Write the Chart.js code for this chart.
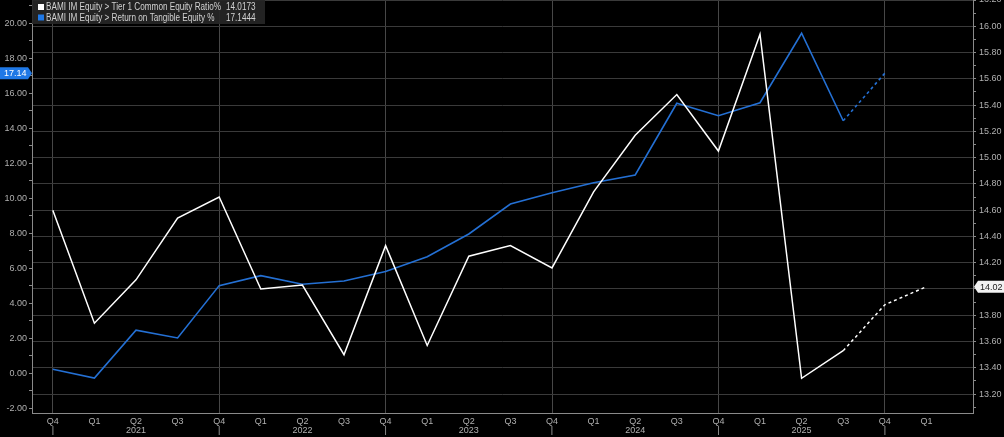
<!DOCTYPE html>
<html>
<head>
<meta charset="utf-8">
<title>BAMI IM Equity</title>
<script src="https://cdn.jsdelivr.net/npm/chart.js@4.4.1/dist/chart.umd.min.js"></script>
<style>
  html, body { margin:0; padding:0; background:#000; }
  #wrap { width:1004px; height:437px; position:relative; }
</style>
</head>
<body>
<div id="wrap"><canvas id="grafico"></canvas></div>
<script>
// -------------------------------------------
//  DADOS
// -------------------------------------------

var trimestres = ['Q4 2020',
    'Q1 2021','Q2 2021','Q3 2021','Q4 2021',
    'Q1 2022','Q2 2022','Q3 2022','Q4 2022',
    'Q1 2023','Q2 2023','Q3 2023','Q4 2023',
    'Q1 2024','Q2 2024','Q3 2024','Q4 2024',
    'Q1 2025','Q2 2025','Q3 2025','Q4 2025',
    'Q1 2026']

// eixo direito
var tier1 = [14.60, 13.74, 14.07, 14.54, 14.70, 14.00, 14.03, 13.50, 14.33, 13.57, 14.25,
             14.33, 14.16, 14.74, 15.17, 15.48, 15.05, 15.94, 13.32, 13.53, 13.88, 14.0173]
// eixo esquerdo
var rote = [0.23, -0.27, 2.46, 2.02, 5.01, 5.58, 5.09, 5.27, 5.81, 6.66, 7.96,
            9.67, 10.32, 10.89, 11.33, 15.43, 14.72, 15.46, 19.43, 14.43, 17.1444, null]

var nomes = ['BAMI IM Equity > Tier 1 Common Equity Ratio%', 'BAMI IM Equity > Return on Tangible Equity %']
var cores = ['#ffffff', '#2470d4']
var inicioEstimativa = 19   // trecho pontilhado a partir daqui

var eixoEsq = { min: -2.27, max: 21.33, passo: 1 }
var eixoDir = { min: 13.056, max: 16.20, passo: 0.1 }

// -------------------------------------------
//  AUXILIARES
// -------------------------------------------

var fonte = "'Liberation Sans', Arial, sans-serif"
Chart.defaults.font.family = fonte
Chart.defaults.font.size = 9
Chart.defaults.color = '#b0b0b0'

function pontos(arr) {
    var out = []
    for (var i=0; i<arr.length; i++) {
        if (arr[i] !== null) out.push({ x:i, y:arr[i] })
    }
    return out
}

function ultimo(arr) {
    for (var i=arr.length-1; i>=0; i--) if (arr[i] !== null) return arr[i]
    return null
}

function tracejado(ctx) {
    return ctx.p0.parsed.x >= inicioEstimativa ? [3,3] : undefined
}

function ehPar(v, passo) {
    return Math.round(v/passo) % 2 === 0
}

// texto comprimido na horizontal (a fonte do terminal é mais estreita)
function textoEstreito(c, txt, x, y, fator) {
    c.save()
    c.translate(x, y)
    c.scale(fator, 1)
    c.fillText(txt, 0, 0)
    c.restore()
}

// etiqueta com seta apontando para o eixo
function etiqueta(c, y, txt, bg, fg, lado, area) {
    c.save()
    c.font = '9px ' + fonte
    c.fillStyle = bg
    c.beginPath()
    if (lado === 'esq') {
        var xr = area.left - 4
        c.moveTo(0, y-6); c.lineTo(xr, y-6); c.lineTo(area.left, y)
        c.lineTo(xr, y+6); c.lineTo(0, y+6)
    } else {
        var xl = area.right + 5
        c.moveTo(area.right+1, y); c.lineTo(xl, y-6); c.lineTo(1004, y-6)
        c.lineTo(1004, y+6); c.lineTo(xl, y+6)
    }
    c.closePath()
    c.fill()
    c.fillStyle = fg
    c.textBaseline = 'middle'
    c.textAlign = 'left'
    c.fillText(txt, lado === 'esq' ? 4 : area.right + 7, y+0.5)
    c.restore()
}

var pluginExtras = {
    id: 'extras',
    afterDraw: function(chart) {
        var c = chart.ctx
        var a = chart.chartArea

        // legenda
        c.save()
        c.fillStyle = 'rgba(38,38,38,0.92)'
        c.fillRect(a.left, 0, 233, 24)
        c.font = '10px ' + fonte
        c.textBaseline = 'middle'
        var fator = 175 / c.measureText(nomes[0]).width
        var series = [tier1, rote]
        for (var i=0; i<2; i++) {
            var y = 7 + i*10.5
            c.fillStyle = i === 0 ? '#ffffff' : '#1f78e6'
            c.fillRect(38, y-3, 6, 6)
            c.fillStyle = '#d2d2d2'
            textoEstreito(c, nomes[i], 46, y+0.5, fator)
            textoEstreito(c, ultimo(series[i]).toFixed(4), 226, y+0.5, fator)
        }
        c.restore()

        // etiquetas dos últimos valores
        var vr = ultimo(rote), vt = ultimo(tier1)
        etiqueta(c, chart.scales.y.getPixelForValue(vr), vr.toFixed(2), '#1f78e6', '#ffffff', 'esq', a)
        etiqueta(c, chart.scales.y2.getPixelForValue(vt), vt.toFixed(2), '#f2f2f2', '#222222', 'dir', a)
    }
}

// -------------------------------------------
//  GRÁFICO
// -------------------------------------------

new Chart(document.getElementById('grafico'), {
    type: 'line',
    data: {
        datasets: [
            { label: nomes[0], data: pontos(tier1), yAxisID: 'y2', borderColor: cores[0], borderWidth: 1.5,
              pointRadius: 0, tension: 0, segment: { borderDash: tracejado } },
            { label: nomes[1], data: pontos(rote), yAxisID: 'y', borderColor: cores[1], borderWidth: 1.6,
              pointRadius: 0, tension: 0, segment: { borderDash: tracejado } }
        ]
    },
    options: {
        responsive: true,
        maintainAspectRatio: false,
        animation: false,
        layout: { padding: 0 },
        plugins: { legend: { display: false }, tooltip: { enabled: false } },
        scales: {
            x: {
                type: 'linear', min: -0.5, max: 22.12,
                afterFit: function(s) { s.height = 24; s.paddingLeft = 0; s.paddingRight = 0 },
                border: { color: '#8a8a8a' },
                grid: {
                    color: function(ctx) { return ctx.tick && ctx.tick.value % 4 === 0 ? '#474747' : 'transparent' },
                    drawTicks: false
                },
                ticks: {
                    stepSize: 1, autoSkip: false, includeBounds: false, maxRotation: 0, padding: 4,
                    font: { size: 9, lineHeight: 1 },
                    callback: function(v) {
                        var t = trimestres[v]
                        if (!t) return ''
                        var p = t.split(' ')
                        var baixo = p[0] === 'Q2' ? p[1] : (p[0] === 'Q4' ? '|' : '')
                        return [p[0], baixo]
                    }
                }
            },
            y: {
                position: 'left', min: eixoEsq.min, max: eixoEsq.max,
                afterFit: function(s) { s.width = 32; s.paddingTop = 0; s.paddingBottom = 0 },
                border: { color: '#8a8a8a' },
                grid: { drawOnChartArea: false, tickColor: '#8a8a8a', tickLength: 3 },
                ticks: {
                    stepSize: eixoEsq.passo, includeBounds: false, autoSkip: false, padding: 2,
                    callback: function(v) { return ehPar(v, eixoEsq.passo) ? v.toFixed(2) : '' }
                }
            },
            y2: {
                position: 'right', min: eixoDir.min, max: eixoDir.max,
                afterFit: function(s) { s.width = 31; s.paddingTop = 0; s.paddingBottom = 0 },
                border: { color: '#8a8a8a' },
                grid: {
                    color: function(ctx) { return ctx.tick && ehPar(ctx.tick.value, eixoDir.passo) ? '#3a3a3a' : 'transparent' },
                    tickColor: '#8a8a8a', tickLength: 3
                },
                ticks: {
                    stepSize: eixoDir.passo, includeBounds: false, autoSkip: false, padding: 3,
                    callback: function(v) { return ehPar(v, eixoDir.passo) ? v.toFixed(2) : '' }
                }
            }
        }
    },
    plugins: [pluginExtras]
})
</script>
</body>
</html>
